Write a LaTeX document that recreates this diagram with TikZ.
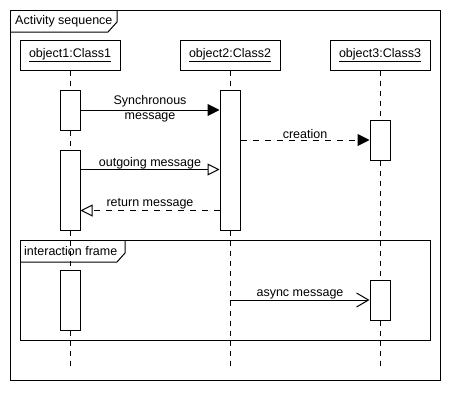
\documentclass[tikz,border=0pt]{standalone}
\usepackage{fontspec}
\setmainfont{Liberation Sans}
\usepackage{xcolor}
\usetikzlibrary{arrows.meta}
\definecolor{bg}{HTML}{FFFFFF}
\definecolor{ink}{HTML}{000000}
\tikzset{
  objbox/.style={draw=ink, line width=1pt, fill=bg, minimum width=100pt, minimum height=30pt, inner sep=0pt, font=\fontsize{12.5}{15}\selectfont},
  actbox/.style={draw=ink, line width=1pt, fill=bg, minimum width=20pt, inner sep=0pt},
  lifeline/.style={draw=ink, line width=1pt, dash pattern=on 5pt off 5pt},
  frameline/.style={draw=ink, line width=1pt},
  syncmsg/.style={draw=ink, line width=1pt, -{Triangle[length=12pt,width=12pt]}},
  createmsg/.style={draw=ink, line width=1pt, dash pattern=on 6pt off 6pt, -{Triangle[length=12pt,width=12pt]}},
  plainmsg/.style={draw=ink, line width=1pt, -{Triangle[open,fill=bg,length=12pt,width=12pt]}},
  returnmsg/.style={draw=ink, line width=1pt, dash pattern=on 6pt off 6pt, -{Triangle[open,fill=bg,length=12pt,width=12pt]}},
  asyncmsg/.style={draw=ink, line width=1pt, -{Straight Barb[length=12pt,width=14pt]}},
  lab/.style={text=ink, inner sep=1pt, font=\fontsize{12.5}{15}\selectfont}
}
\begin{document}
\begin{tikzpicture}[x=1pt, y=-1pt]
  \useasboundingbox[fill=bg] (0,0) rectangle (450,400);

  % Outer frame
  \draw[frameline] (10,10) rectangle (440,380);
  \draw[frameline] (10,32) -- (108,32) -- (117,22) -- (117,10);
  \node[lab, anchor=west] (title) at (14,21) {Activity sequence};

  % Objects
  \node[objbox] (obj1) at (70,55) {\underline{object1:Class1}};
  \node[objbox] (obj2) at (230,55) {\underline{object2:Class2}};
  \node[objbox] (obj3) at (380,55) {\underline{object3:Class3}};

  \coordinate (end1) at (70,370);
  \coordinate (end2) at (230,370);
  \coordinate (end3) at (380,370);

  % Lifelines
  \draw[lifeline] (obj1.south) -- (end1);
  \draw[lifeline] (obj2.south) -- (end2);
  \draw[lifeline] (obj3.south) -- (end3);

  % Interaction frame
  \draw[frameline] (20,240) rectangle (430,340);
  \draw[frameline] (20,262) -- (117,262) -- (125,253) -- (125,240);
  \node[lab, anchor=west] (inter) at (23,251) {interaction frame};

  % Activations
  \node[actbox, minimum height=40pt] (act1a) at (70,110) {};
  \node[actbox, minimum height=80pt] (act1b) at (70,190) {};
  \node[actbox, minimum height=60pt] (act1c) at (70,300) {};
  \node[actbox, minimum height=140pt] (act2) at (230,160) {};
  \node[actbox, minimum height=40pt] (act3a) at (380,140) {};
  \node[actbox, minimum height=40pt] (act3b) at (380,300) {};

  % Messages
  \draw[syncmsg] (act1a.east) -- (act1a.east -| act2.west);
  \node[lab, align=center] (syncl) at (150,109) {Synchronous\\message};

  \draw[createmsg] (act3a.west -| act2.east) -- (act3a.west);
  \node[lab, above] (createl) at (305,140) {creation};

  \draw[plainmsg] ([yshift=-20pt]act1b.north east) -- ([yshift=-20pt]act1b.north east -| act2.west);
  \node[lab, above] (outl) at (150,170) {outgoing message};

  \draw[returnmsg] ([yshift=20pt]act2.south west) -- ([yshift=20pt]act2.south west -| act1b.east);
  \node[lab, above] (retl) at (150,210) {return message};

  \draw[asyncmsg] (obj2 |- act3b.west) -- (act3b.west);
  \node[lab, above] (asyncl) at (300,300) {async message};
\end{tikzpicture}
\end{document}
